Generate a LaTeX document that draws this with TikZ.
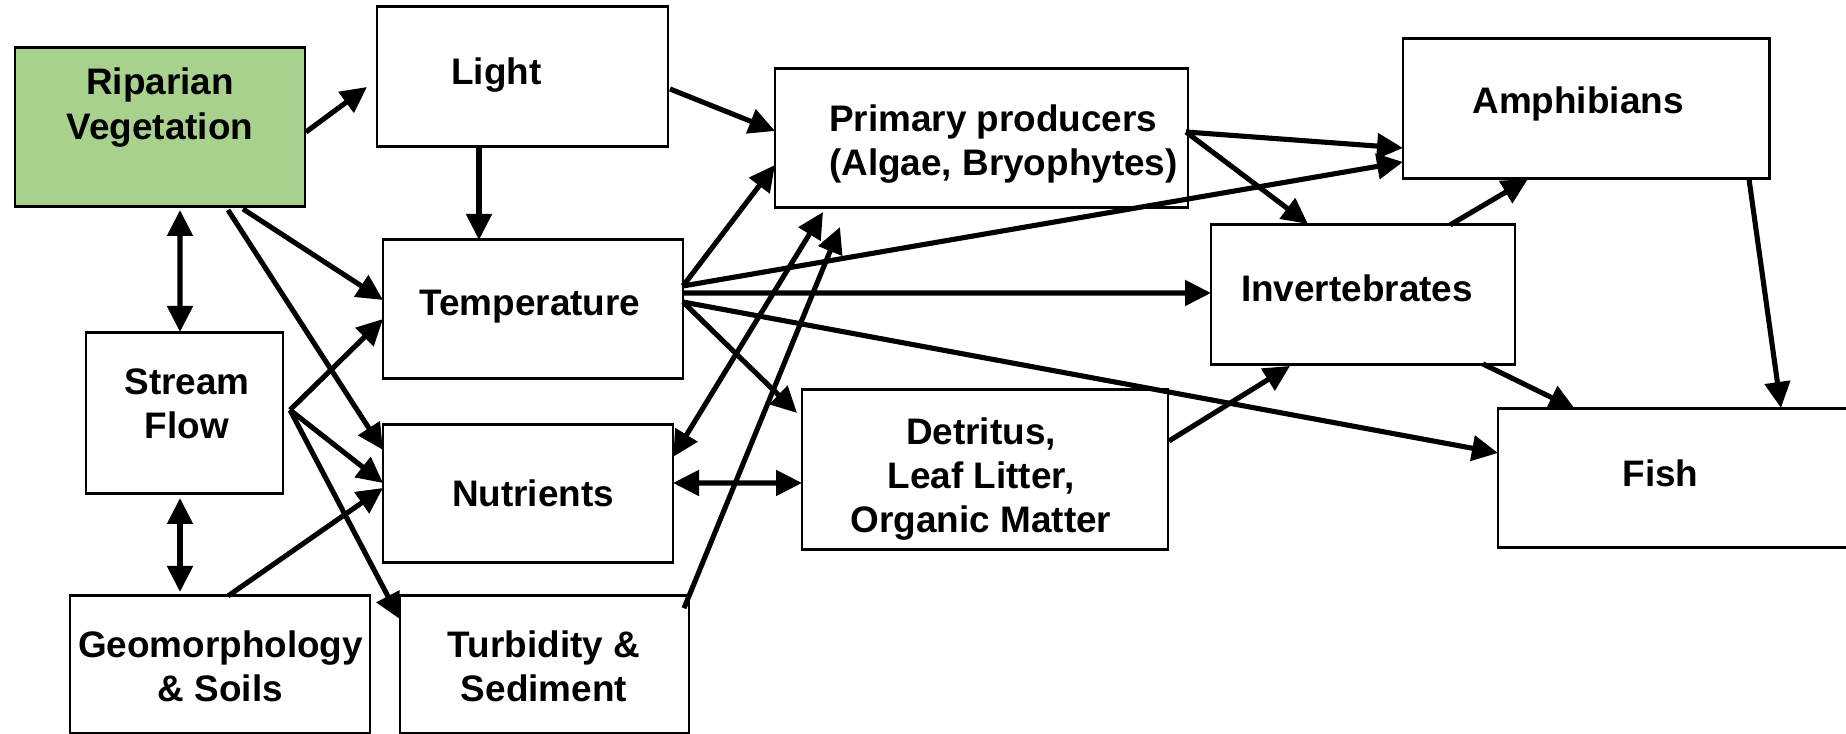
\documentclass[tikz,border=0pt]{standalone}
\usepackage{fontspec}
\setmainfont{Liberation Sans}
\usepackage{tikz}
\usetikzlibrary{%
  positioning,%
  arrows.meta%
}
\definecolor{ripgreen}{RGB}{169,209,142}
\tikzset{
	box/.style={draw, line width=0.85pt, inner sep=0pt, outer sep=0pt},
	lbl/.style={align=center, inner sep=0pt, font=\fontsize{10.5}{12.6}\selectfont\bfseries}
}

\begin{document}
\begin{tikzpicture}[>={Triangle[length=0.26cm,width=0.25cm]}, every edge/.append style={line width=1.45pt}]
	\useasboundingbox (0,0) rectangle (18.46,7.34);
	%Boxes
	\node[box, fill=ripgreen, minimum width=2.90cm, minimum height=1.59cm] (rip) at (1.60,6.065) {};
	\node[box, minimum width=2.91cm, minimum height=1.40cm] (light) at (5.225,6.57) {};
	\node[box, minimum width=3.00cm, minimum height=1.39cm] (temp) at (5.33,4.245) {};
	\node[box, minimum width=1.97cm, minimum height=1.61cm] (flow) at (1.845,3.205) {};
	\node[box, minimum width=2.90cm, minimum height=1.38cm] (nutr) at (5.28,2.40) {};
	\node[box, minimum width=3.00cm, minimum height=1.375cm] (geo) at (2.20,0.6925) {};
	\node[box, minimum width=2.89cm, minimum height=1.375cm] (turb) at (5.445,0.6925) {};
	\node[box, minimum width=4.13cm, minimum height=1.39cm] (prim) at (9.815,5.955) {};
	\node[box, minimum width=3.66cm, minimum height=1.60cm] (detr) at (9.85,2.64) {};
	\node[box, minimum width=3.04cm, minimum height=1.40cm] (inv) at (13.63,4.39) {};
	\node[box, minimum width=3.66cm, minimum height=1.40cm] (amph) at (15.86,6.25) {};
	\node[box, minimum width=3.57cm, minimum height=1.39cm] (fish) at (16.765,2.555) {};
	%Texts
	\node[lbl] (rip-txt) at (1.60,6.265) {Riparian\\Vegetation};
	\node[lbl] (light-txt) at (4.965,6.585) {Light};
	\node[lbl] (temp-txt) at (5.30,4.27) {Temperature};
	\node[lbl] (flow-txt) at (1.87,3.30) {Stream\\Flow};
	\node[lbl] (nutr-txt) at (5.33,2.405) {Nutrients};
	\node[lbl] (geo-txt) at (2.205,0.68) {Geomorphology\\\& Soils};
	\node[lbl] (turb-txt) at (5.44,0.68) {Turbidity \&\\Sediment};
	\node[lbl, align=left] (prim-txt) at (10.035,5.90) {Primary producers\\(Algae, Bryophytes)};
	\node[lbl] (detr-txt) at (9.81,2.55) {Detritus,\\Leaf Litter,\\Organic Matter};
	\node[lbl] (inv-txt) at (13.57,4.46) {Invertebrates};
	\node[lbl] (amph-txt) at (15.78,6.30) {Amphibians};
	\node[lbl] (fish-txt) at (16.605,2.61) {Fish};
	%Left arrows
	\draw
		([shift={(0.01,-0.045)}]rip.east) edge[->] ([shift={(-0.10,-0.10)}]light.west)
		([xshift=-0.435cm]light.south) edge[->] ([xshift=-0.54cm]temp.north)
		([shift={(0.83,-0.02)}]rip.south) edge[->] ([yshift=0.095cm]temp.west)
		([shift={(0.68,-0.03)}]rip.south) edge[->] ([yshift=0.44cm]nutr.west)
		([shift={(0.20,-0.03)}]rip.south) edge[<->] ([shift={(-0.045,0.01)}]flow.north)
		([shift={(-0.045,-0.04)}]flow.south) edge[<->] ([shift={(-0.40,0.04)}]geo.north)
		
		([shift={(0.07,0.035)}]flow.east) edge[->] ([yshift=-0.095cm]temp.west)
		([shift={(0.07,0.035)}]flow.east) edge[->] ([yshift=0.11cm]nutr.west)
		([shift={(0.07,0.035)}]flow.east) edge[->] ([yshift=0.455cm]turb.west)
		([xshift=0.08cm]geo.north) edge[->] ([yshift=0.06cm]nutr.west)
	;
	%Middle arrows
	\draw
		([shift={(0.02,-0.12)}]light.east) edge[->] ([yshift=0.075cm]prim.west)
		([yshift=0.235cm]temp.east) edge[->] ([yshift=-0.265cm]prim.west)
		([yshift=0.235cm]temp.east) edge[->] ([yshift=-0.53cm]amph.west)
		([yshift=0.165cm]temp.east) edge[->] ([yshift=0.02cm]inv.west)
		([yshift=0.075cm]temp.east) edge[->] ([yshift=0.255cm]fish.west)
		([yshift=0.075cm]temp.east) edge[->] ([shift={(-0.05,0.57)}]detr.west)
		
		([yshift=0.37cm]nutr.east) edge[<->] ([shift={(-1.585,-0.04)}]prim.south)
		([shift={(-0.05,0.565)}]turb.east) edge[->] ([shift={(-1.415,-0.19)}]prim.south)
		([yshift=0.11cm]nutr.east) edge[<->] ([yshift=-0.13cm]detr.west)
	;
	%Right arrows
	\draw
		([shift={(0.01,0.29)}]detr.east) edge[->] ([shift={(-0.73,-0.01)}]inv.south)
		([shift={(-0.02,0.065)}]prim.east) edge[->] ([yshift=-0.39cm]amph.west)
		([shift={(-0.02,0.065)}]prim.east) edge[->] ([shift={(-0.55,0.01)}]inv.north)
		([xshift=0.87cm]inv.north) edge[->] ([xshift=-0.58cm]amph.south)
		([shift={(1.20,0.01)}]inv.south) edge[->] ([xshift=-1.015cm]fish.north)
		([xshift=1.63cm]amph.south) edge[->] ([shift={(1.045,0.01)}]fish.north)
	;
\end{tikzpicture}
\end{document}
